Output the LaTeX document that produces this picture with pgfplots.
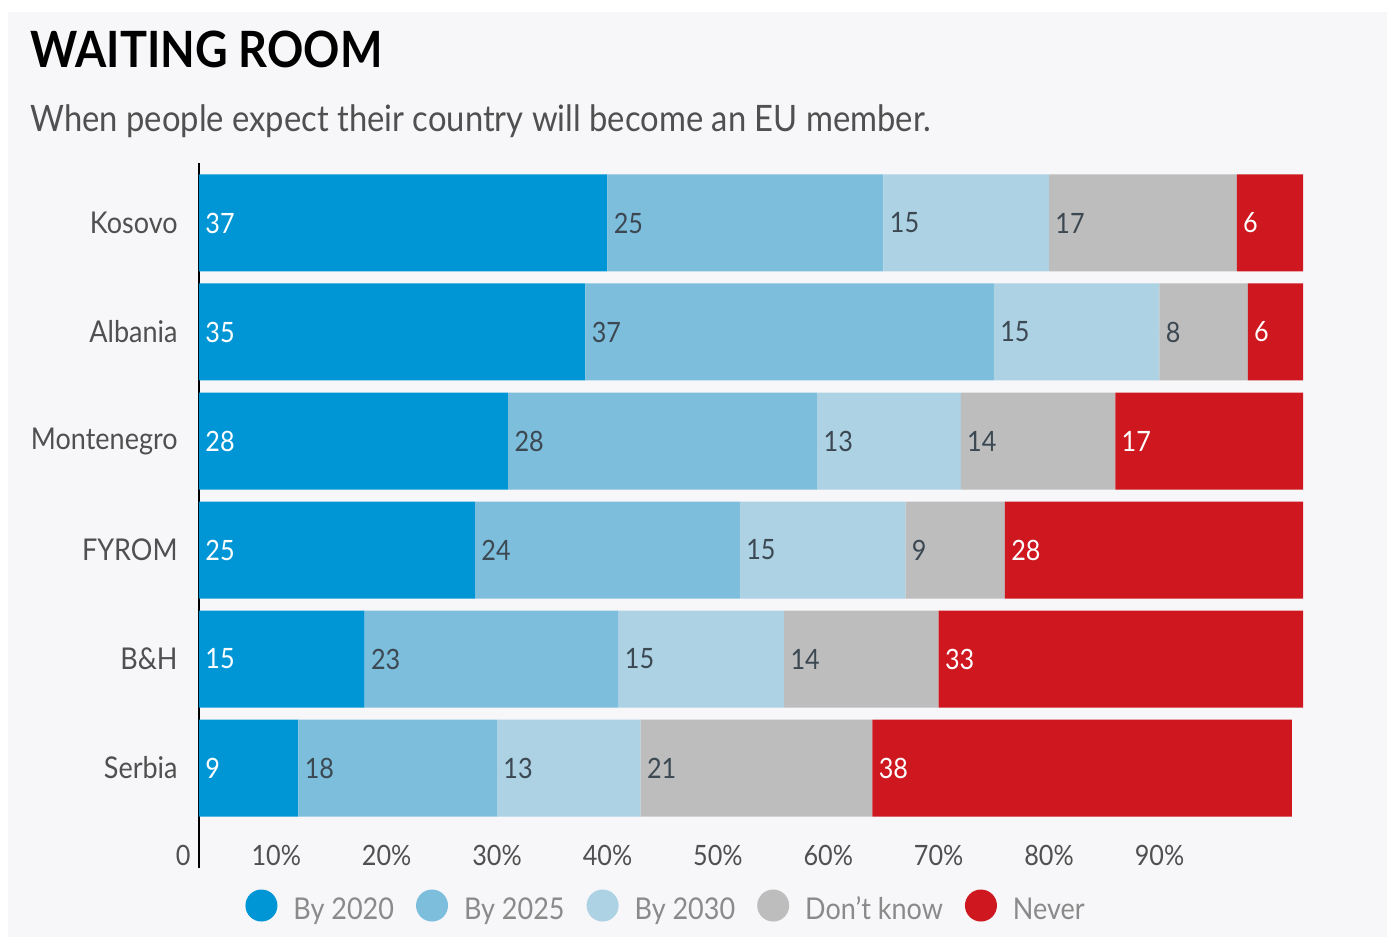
\documentclass[border=0pt]{standalone}
\usepackage{fontspec}
\setmainfont{Lato}[FakeStretch=0.9]
\usepackage{pgfplots}
\usepackage{pgfplotstable}
\pgfplotsset{compat=1.18}

\definecolor{by2020}{HTML}{0096D6}
\definecolor{by2025}{HTML}{7DBEDD}
\definecolor{by2030}{HTML}{ACD2E4}
\definecolor{dontknow}{HTML}{BDBDBD}
\definecolor{never}{HTML}{CE171E}
\definecolor{bg}{HTML}{F7F7F9}
\definecolor{labelgray}{HTML}{505050}
\definecolor{valgray}{HTML}{3C4852}
\definecolor{leggray}{HTML}{8A8A8A}

% share of respondents, per country (Kosovo first)
\pgfplotstableread{
row a b c d e
0 37 25 15 17 6
1 35 37 15 8 6
2 28 28 13 14 17
3 25 24 15 9 28
4 15 23 15 14 33
5 9 18 13 21 38
}\waiting
% where each segment starts, for its label
\pgfplotstablecreatecol[expr={0}]{sa}\waiting
\pgfplotstablecreatecol[expr={\thisrow{a}}]{sb}\waiting
\pgfplotstablecreatecol[expr={\thisrow{a}+\thisrow{b}}]{sc}\waiting
\pgfplotstablecreatecol[expr={\thisrow{a}+\thisrow{b}+\thisrow{c}}]{sd}\waiting
\pgfplotstablecreatecol[expr={\thisrow{a}+\thisrow{b}+\thisrow{c}+\thisrow{d}}]{se}\waiting

\pgfplotsset{
    segbar/.style={xbar, stack plots=x, bar shift=0pt, draw=none, fill=#1},
    seglabel/.style={forget plot, only marks, mark=*, mark size=0pt,
        nodes near coords, point meta=explicit symbolic,
        every node near coord/.append style={anchor=west, inner sep=0pt, xshift=3pt,
            text=#1, font=\fontsize{14}{17}\selectfont}},
}

\begin{document}
\begin{tikzpicture}
\fill[white] (0,0) rectangle (693.5pt,-468.5pt);
\fill[bg] (4pt,-6pt) rectangle (693.5pt,-468.5pt);

\node[anchor=base west, inner sep=0pt, font=\fontsize{25}{28}\selectfont\bfseries] at (15pt,-34pt) {WAITING ROOM};
\node[anchor=base west, inner sep=0pt, text=labelgray, font=\fontsize{18.2}{21}\selectfont] at (15pt,-65.5pt) {When people expect their country will become an EU member.};

\begin{axis}[
    at={(99.5pt,-81.5pt)}, anchor=north west,
    scale only axis, width=552pt, height=352.5pt,
    bar width=48.5pt,
    xmin=0, xmax=100,
    ymin=-0.55, ymax=5.917, y dir=reverse,
    axis y line*=left, axis x line*=bottom,
    x axis line style={draw=none},
    y axis line style={-, line width=1.2pt, black},
    major tick length=0pt,
    ytick={0,...,5},
    yticklabels={Kosovo, Albania, Montenegro, FYROM, B\&H, Serbia},
    yticklabel style={anchor=east, inner sep=0pt, xshift=-10.5pt, text=labelgray,
        font=\fontsize{15}{18}\selectfont},
    xtick={0,10,...,90},
    xticklabels={0, 10\%, 20\%, 30\%, 40\%, 50\%, 60\%, 70\%, 80\%, 90\%},
    xticklabel style={anchor=base east, inner sep=0pt, xshift=-4pt, yshift=1.5pt,
        text=labelgray, font=\fontsize{14}{17}\selectfont},
    legend image code/.code={\fill[#1] (8pt,0.22em) circle (8pt);},
    legend style={at={(0.424,-0.057)}, anchor=center, draw=none, fill=none,
        legend columns=-1, text=leggray, font=\fontsize{15}{18}\selectfont,
        /tikz/every odd column/.append style={column sep=6pt},
        /tikz/every even column/.append style={column sep=9pt}},
]
\addplot[segbar=by2020]   table[x=a, y=row] {\waiting};
\addplot[segbar=by2025]   table[x=b, y=row] {\waiting};
\addplot[segbar=by2030]   table[x=c, y=row] {\waiting};
\addplot[segbar=dontknow] table[x=d, y=row] {\waiting};
\addplot[segbar=never]    table[x=e, y=row] {\waiting};
\legend{By 2020, By 2025, By 2030, Don't know, Never}

\addplot[seglabel=white]   table[x=sa, y=row, meta=a] {\waiting};
\addplot[seglabel=valgray] table[x=sb, y=row, meta=b] {\waiting};
\addplot[seglabel=valgray] table[x=sc, y=row, meta=c] {\waiting};
\addplot[seglabel=valgray] table[x=sd, y=row, meta=d] {\waiting};
\addplot[seglabel=white]   table[x=se, y=row, meta=e] {\waiting};
\end{axis}
\end{tikzpicture}
\end{document}
